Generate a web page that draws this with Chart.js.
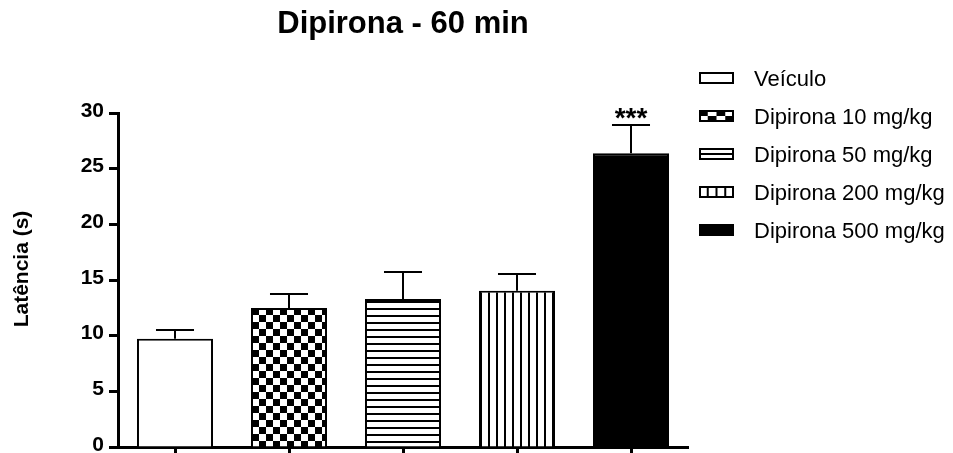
<!DOCTYPE html>
<html>
<head>
<meta charset="utf-8">
<script src="https://cdn.jsdelivr.net/npm/chart.js@4/dist/chart.umd.min.js"></script>
<style>
  html, body { margin: 0; padding: 0; background: #fff; }
  #wrap { width: 953px; height: 453px; }
</style>
</head>
<body>
<div id="wrap"><canvas id="chart" width="953" height="453"></canvas></div>
<script>
// Treatment groups and tail-flick latency (mean and upper SEM, seconds)
const groups = ['Veículo', 'Dipirona 10 mg/kg', 'Dipirona 50 mg/kg', 'Dipirona 200 mg/kg', 'Dipirona 500 mg/kg'];
const latencyMean = [9.73, 12.49, 13.3, 14.04, 26.39];
const latencySem = [0.78, 1.26, 2.4, 1.5, 2.57];
const significance = ['', '', '', '', '***'];
const yTickStep = 5;
const yMax = 30;

const FONT = '"Liberation Sans", Arial, Helvetica, sans-serif';
const fillKinds = ['plain', 'checker', 'hlines', 'vlines', 'solid'];

const canvas = document.getElementById('chart');
const ctx = canvas.getContext('2d');

function makePattern(w, h, draw) {
  const c = document.createElement('canvas');
  c.width = w; c.height = h;
  const g = c.getContext('2d');
  g.fillStyle = '#fff';
  g.fillRect(0, 0, w, h);
  g.fillStyle = '#000';
  draw(g, w, h);
  return ctx.createPattern(c, 'repeat');
}

const patterns = {
  plain: '#ffffff',
  solid: '#000000',
  checker: makePattern(14, 14, (g) => { g.fillRect(0, 0, 7, 7); g.fillRect(7, 7, 7, 7); }),
  hlines: makePattern(8, 7, (g, w) => { g.fillRect(0, 0, w, 2); }),
  vlines: makePattern(8, 8, (g, w, h) => { g.fillRect(0, 0, 2, h); })
};

function drawSwatch(g, kind, x, y, w, h) {
  g.save();
  g.fillStyle = '#fff';
  g.fillRect(x, y, w, h);
  g.fillStyle = '#000';
  if (kind === 'solid') {
    g.fillRect(x, y, w, h);
  } else if (kind === 'checker') {
    const cols = 4, rows = 2;
    const cw = w / cols, rh = h / rows;
    for (let r = 0; r < rows; r++) {
      for (let c = 0; c < cols; c++) {
        if ((r + c) % 2 === 0) g.fillRect(x + c * cw, y + r * rh, cw, rh);
      }
    }
  } else if (kind === 'hlines') {
    g.fillRect(x, y + h / 2 - 1, w, 2);
  } else if (kind === 'vlines') {
    for (let k = 1; k < 4; k++) g.fillRect(x + k * w / 4 - 1, y, 2, h);
  }
  g.strokeStyle = '#000';
  g.lineWidth = 2;
  g.strokeRect(x + 1, y + 1, w - 2, h - 2);
  g.restore();
}

// Upper error whiskers with caps, plus significance marks
const errorBars = {
  id: 'errorBars',
  afterDatasetsDraw(chart) {
    const { ctx: g, scales: { y } } = chart;
    const meta = chart.getDatasetMeta(0);
    g.save();
    g.strokeStyle = '#000';
    g.lineWidth = 2;
    meta.data.forEach((bar, i) => {
      const cx = Math.round(bar.x);
      const top = y.getPixelForValue(latencyMean[i]);
      const hi = Math.round(y.getPixelForValue(latencyMean[i] + latencySem[i]));
      const half = bar.width / 4;
      g.beginPath();
      g.moveTo(cx, top);
      g.lineTo(cx, hi);
      g.moveTo(cx - half, hi);
      g.lineTo(cx + half, hi);
      g.stroke();
      if (significance[i]) {
        g.fillStyle = '#000';
        g.font = 'bold 28px ' + FONT;
        g.textAlign = 'center';
        g.textBaseline = 'alphabetic';
        g.fillText(significance[i], cx, hi + 2);
      }
    });
    g.restore();
  }
};

// Legend to the right of the plot area
const sideLegend = {
  id: 'sideLegend',
  afterDraw(chart) {
    const g = chart.ctx;
    const area = chart.chartArea;
    const bx = area.right + 11;
    const tx = area.right + 66;
    g.save();
    groups.forEach((name, i) => {
      const cy = area.top - 35 + i * 38;
      drawSwatch(g, fillKinds[i], bx, cy - 6, 35, 12);
      g.fillStyle = '#000';
      g.font = '22px ' + FONT;
      g.textAlign = 'left';
      g.textBaseline = 'middle';
      g.fillText(name, tx, cy + 1.5);
    });
    g.restore();
  }
};

// Rotated y-axis title
const yTitle = {
  id: 'yTitle',
  afterDraw(chart) {
    const g = chart.ctx;
    g.save();
    g.translate(22, 269);
    g.rotate(-Math.PI / 2);
    g.fillStyle = '#000';
    g.font = 'bold 21px ' + FONT;
    g.textAlign = 'center';
    g.textBaseline = 'middle';
    g.fillText('Latência (s)', 0, 0);
    g.restore();
  }
};

new Chart(ctx, {
  type: 'bar',
  data: {
    labels: groups,
    datasets: [{
      data: latencyMean,
      backgroundColor: fillKinds.map(k => patterns[k]),
      borderColor: '#000',
      borderWidth: 2,
      categoryPercentage: 1,
      barPercentage: 0.667
    }]
  },
  options: {
    responsive: false,
    animation: false,
    devicePixelRatio: 1,
    layout: { padding: { left: 0, right: 265, top: 0, bottom: 0 } },
    plugins: {
      legend: { display: false },
      tooltip: { enabled: false },
      title: {
        display: true,
        text: 'Dipirona - 60 min',
        fullSize: false,
        color: '#000',
        font: { family: FONT, size: 31, weight: 'bold', lineHeight: 1.2 },
        padding: { top: 6, bottom: 69.8 }
      }
    },
    scales: {
      x: {
        offset: true,
        grid: { display: true, drawOnChartArea: false, drawTicks: true, tickLength: 7, tickWidth: 3, tickColor: '#000', offset: false },
        border: { display: true, color: '#000', width: 3 },
        ticks: { display: false },
        afterFit(s) { s.height = 6; s.paddingLeft = 0; s.paddingRight = 0; }
      },
      y: {
        min: 0,
        max: yMax,
        grid: { display: true, drawOnChartArea: false, drawTicks: true, tickLength: 9, tickWidth: 3, tickColor: '#000' },
        border: { display: true, color: '#000', width: 3 },
        ticks: {
          stepSize: yTickStep,
          color: '#000',
          padding: 5,
          labelOffset: -2,
          font: { family: FONT, size: 21, weight: 'bold' }
        },
        afterFit(s) { s.width = 118; s.paddingTop = 0; s.paddingBottom = 0; }
      }
    }
  },
  plugins: [errorBars, sideLegend, yTitle]
});
</script>
</body>
</html>
